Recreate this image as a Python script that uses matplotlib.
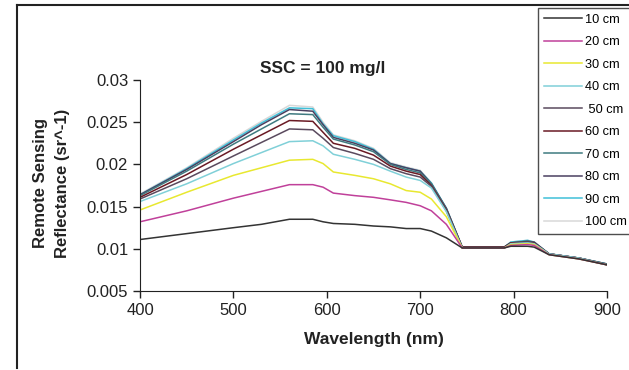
import matplotlib.pyplot as plt
from matplotlib.lines import Line2D

plt.rcParams['font.family'] = ['Liberation Sans', 'DejaVu Sans']

# Wavelength points (nm)
wl = [400, 450, 500, 530, 560, 585, 596, 607, 630, 650, 668, 685, 700, 712, 728, 745,
      790, 797, 815, 822, 838, 870, 900]

# Remote sensing reflectance for each depth
cm10 = [0.0111, 0.0118, 0.0125, 0.0129, 0.0135, 0.0135, 0.0132, 0.0130, 0.0129, 0.0127, 0.0126,
        0.0124, 0.0124, 0.0121, 0.0113, 0.0101, 0.0101, 0.0103, 0.0103, 0.0102, 0.0093, 0.0088, 0.0081]
cm20 = [0.0132, 0.0145, 0.0160, 0.0168, 0.0176, 0.0176, 0.0173, 0.0166, 0.0163, 0.0161, 0.0158,
        0.0155, 0.0151, 0.0145, 0.0129, 0.0101, 0.0101, 0.0104, 0.0105, 0.0104, 0.0093, 0.0088, 0.0081]
cm30 = [0.0146, 0.0167, 0.0187, 0.0196, 0.0205, 0.0206, 0.0201, 0.0191, 0.0187, 0.0183, 0.0177,
        0.0169, 0.0167, 0.0159, 0.0138, 0.0101, 0.0101, 0.0105, 0.0106, 0.0105, 0.0093, 0.0088, 0.0081]
cm40 = [0.0156, 0.0177, 0.0201, 0.0214, 0.0227, 0.0228, 0.0222, 0.0212, 0.0206, 0.0200, 0.0192,
        0.0185, 0.0181, 0.0172, 0.0144, 0.0101, 0.0101, 0.0106, 0.0107, 0.0106, 0.0094, 0.0089, 0.0081]
cm50 = [0.0159, 0.0183, 0.0210, 0.0226, 0.0242, 0.0241, 0.0231, 0.0220, 0.0213, 0.0206, 0.0195,
        0.0189, 0.0185, 0.0174, 0.0145, 0.0101, 0.0101, 0.0106, 0.0108, 0.0106, 0.0094, 0.0089, 0.0081]
cm60 = [0.0161, 0.0188, 0.0218, 0.0235, 0.0252, 0.0251, 0.0238, 0.0225, 0.0219, 0.0211, 0.0198,
        0.0192, 0.0188, 0.0175, 0.0146, 0.0102, 0.0102, 0.0107, 0.0108, 0.0107, 0.0094, 0.0089, 0.0081]
cm70 = [0.0163, 0.0192, 0.0224, 0.0242, 0.0260, 0.0259, 0.0244, 0.0230, 0.0223, 0.0215, 0.0200,
        0.0194, 0.0190, 0.0177, 0.0147, 0.0102, 0.0102, 0.0107, 0.0109, 0.0107, 0.0094, 0.0089, 0.0082]
cm80 = [0.0164, 0.0194, 0.0227, 0.0247, 0.0265, 0.0263, 0.0247, 0.0232, 0.0225, 0.0217, 0.0201,
        0.0196, 0.0192, 0.0177, 0.0148, 0.0102, 0.0102, 0.0107, 0.0109, 0.0108, 0.0094, 0.0089, 0.0082]
cm90 = [0.0164, 0.0195, 0.0229, 0.0249, 0.0267, 0.0266, 0.0248, 0.0234, 0.0227, 0.0218, 0.0201,
        0.0196, 0.0192, 0.0178, 0.0148, 0.0102, 0.0102, 0.0108, 0.0110, 0.0108, 0.0094, 0.0089, 0.0082]
cm100 = [0.0165, 0.0196, 0.0231, 0.0251, 0.0270, 0.0268, 0.0250, 0.0235, 0.0228, 0.0219, 0.0202,
         0.0197, 0.0193, 0.0178, 0.0148, 0.0102, 0.0102, 0.0108, 0.0110, 0.0108, 0.0094, 0.0089, 0.0082]

labels = ['10 cm', '20 cm', '30 cm', '40 cm', ' 50 cm', '60 cm', '70 cm', '80 cm', '90 cm', '100 cm']
series = [cm10, cm20, cm30, cm40, cm50, cm60, cm70, cm80, cm90, cm100]
colors = ['#333333', '#c0409a', '#e8e830', '#80d0d8', '#5a4a5e', '#6a1a24',
          '#3f7a80', '#4a4060', '#40c0d8', '#d8d8d8']

fig = plt.figure(figsize=(6.29, 3.70), dpi=100)
ax = fig.add_axes([0.2226, 0.2135, 0.7424, 0.5703])

# draw from back (100 cm) to front so lower curves stay visible
for vals, col, lab in list(zip(series, colors, labels))[::-1]:
    ax.plot(wl, vals, color=col, lw=1.1, label=lab)

ax.set_xlim(400, 900)
ax.set_ylim(0.005, 0.03)
ax.set_xticks([400, 500, 600, 700, 800, 900])
ax.set_yticks([0.005, 0.01, 0.015, 0.02, 0.025, 0.03])
ax.set_yticklabels(['0.005', '0.01', '0.015', '0.02', '0.025', '0.03'])
ax.tick_params(labelsize=12, length=5, width=1, color='#222222', labelcolor='#222222')
ax.spines['top'].set_visible(False)
ax.spines['right'].set_visible(False)
ax.spines['left'].set_color('#222222')
ax.spines['bottom'].set_color('#222222')

ax.set_xlabel('Wavelength (nm)', fontsize=12.5, fontweight='bold', color='#222222', labelpad=10)
fig.text(0.082, 0.505, 'Remote Sensing\nReflectance (sr^-1)', rotation=90, fontsize=12,
         fontweight='bold', color='#222222', ha='center', va='center', linespacing=1.6)
fig.text(0.5135, 0.803, 'SSC = 100 mg/l', fontsize=12.5, fontweight='bold', color='#222222',
         ha='center', va='baseline')

# legend box
handles = [Line2D([0], [0], color=c, lw=1.1) for c in colors]
leg = fig.legend(handles, labels, loc='upper left', bbox_to_anchor=(538 / 629, 1 - 8 / 370),
                 fontsize=9.2, frameon=True, fancybox=False, handlelength=3.0,
                 labelspacing=0.82, borderpad=0.45, handletextpad=0.2, borderaxespad=0)
leg.get_frame().set_edgecolor('#222222')
leg.get_frame().set_linewidth(1.0)

# outer chart border
fig.add_artist(Line2D([17 / 629, 17 / 629], [1 - 5 / 370, 1 - 368 / 370], color='#222222', lw=1.5))
fig.add_artist(Line2D([17 / 629, 1.0], [1 - 5 / 370, 1 - 5 / 370], color='#222222', lw=1.5))

fig.savefig('out.png', dpi=100)
